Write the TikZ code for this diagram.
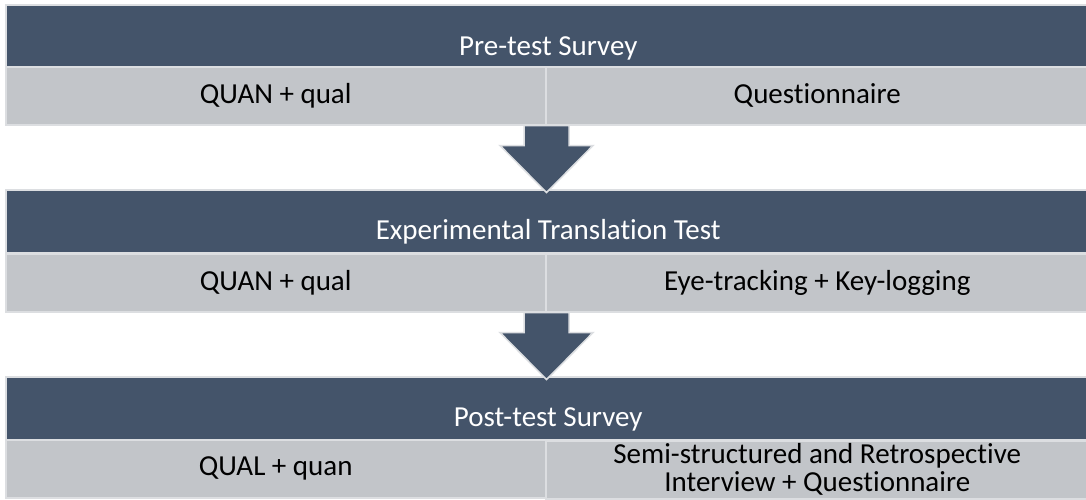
\documentclass[tikz,border=0pt]{standalone}
\usepackage{fontspec}
\setmainfont{Carlito}[Ligatures=NoCommon]
\usetikzlibrary{calc}
\definecolor{slate}{HTML}{44546A}
\definecolor{cellgray}{HTML}{C2C5C9}
\definecolor{rulegray}{HTML}{DCDEE1}

\tikzset{
  header/.style={rectangle, fill=slate, draw=rulegray, line width=1.5pt,
    minimum width=1085pt, minimum height=63pt, inner sep=0pt, anchor=north west},
  headtext/.style={anchor=base, text=white, inner sep=0pt,
    font=\fontsize{29}{30}\selectfont},
  cell/.style={rectangle, fill=cellgray, draw=rulegray, line width=1.5pt,
    minimum height=58pt, inner sep=0pt, anchor=north west, align=center,
    font=\fontsize{29}{28}\selectfont},
  leftcell/.style={cell, minimum width=540pt},
  rightcell/.style={cell, minimum width=543pt},
  downarrow/.pic={
    \filldraw[fill=slate, draw=rulegray, line width=1.5pt, line join=miter]
      (-22.5,0) -- (22.5,0) -- (22.5,20) -- (46.5,20) -- (0,67)
      -- (-46.5,20) -- (-22.5,20) -- cycle;
  }
}

\begin{document}
\begin{tikzpicture}[x=1pt, y=-1pt]
\fill[white] (0,0) rectangle (1086,499);
\useasboundingbox (0,0) rectangle (1086,499);

% stage 1
\node[header] (h1) at (5,4) {};
\node[headtext] (t1) at ($(h1.south)+(0,-13)$) {Pre-test Survey};
\node[leftcell] (l1) at (5,66) {QUAN + qual};
\node[rightcell] (r1) at (545,66) {Questionnaire};

% stage 2
\node[header] (h2) at (5,189) {};
\node[headtext] (t2) at ($(h2.south)+(0,-14)$) {Experimental Translation Test};
\node[leftcell] (l2) at (5,253) {QUAN + qual};
\node[rightcell] (r2) at (545,253) {Eye-tracking + Key-logging};

% stage 3
\node[header] (h3) at (5,376) {};
\node[headtext] (t3) at ($(h3.south)+(0,-14)$) {Post-test Survey};
\node[leftcell] (l3) at (5,439) {QUAL + quan};
\node[rightcell, yshift=-1pt] (r3) at (545,439) {Semi-structured and Retrospective\\Interview + Questionnaire};

% block arrows between stages
\pic at (l1.south east) {downarrow};
\pic at (l2.south east) {downarrow};
\end{tikzpicture}
\end{document}
